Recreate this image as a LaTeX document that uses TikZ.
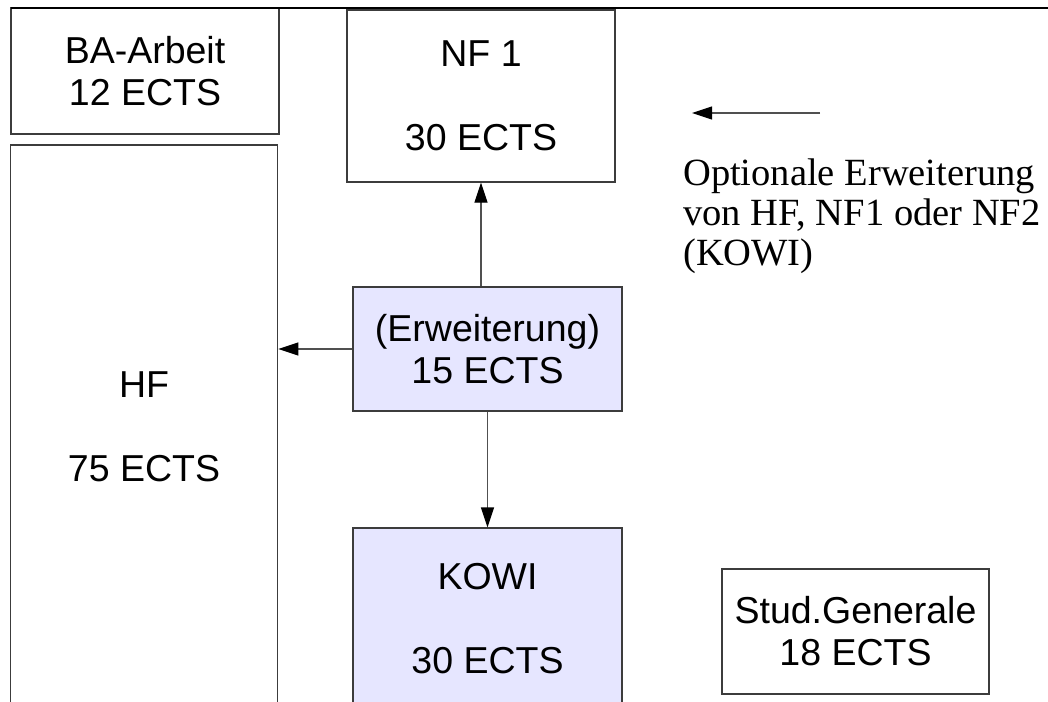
\documentclass[tikz,border=0pt]{standalone}
\usepackage{fontspec}
\setmainfont{Liberation Sans}
\newfontfamily\legendfont{Liberation Serif}
\usetikzlibrary{arrows.meta}
\definecolor{boxfill}{RGB}{230,230,255}
\definecolor{edge}{RGB}{60,60,60}
\definecolor{arrline}{RGB}{80,80,80}
\tikzset{
  box/.style={draw=edge, line width=1.2pt, inner sep=0pt, align=center,
    font=\fontsize{37.5}{42}\selectfont},
  shaded/.style={box, fill=boxfill},
  arr/.style={draw=arrline, line width=1.2pt,
    -{Triangle[length=20pt,width=13pt,color=black,fill=black]}},
  txt/.style={inner sep=0pt, align=center, font=\fontsize{37.5}{42}\selectfont},
}
\begin{document}
\begin{tikzpicture}[x=1pt,y=-1pt]
\clip (0,0) rectangle (1048,701);
\fill[white] (0,0) rectangle (1048,701);
% boxes
\node[box, minimum width=268pt, minimum height=126pt] (ba) at (145,71) {BA-Arbeit\\12 ECTS};
\node[box, minimum width=268pt, minimum height=172pt] (nf1) at (481,96) {NF 1\\[42pt]30 ECTS};
\node[box, minimum width=267.5pt, minimum height=655pt] (hf) at (144,472.5) {};
\node[txt] (hftext) at (144,427) {HF\\[42pt]75 ECTS};
\node[shaded, minimum width=269pt, minimum height=124pt] (erw) at (487.5,349) {(Erweiterung)\\15 ECTS};
\node[shaded, minimum width=269pt, minimum height=272pt] (kowi) at (487.5,664) {};
\node[txt] (kowitext) at (487.5,619) {KOWI\\[42pt]30 ECTS};
\node[box, minimum width=267pt, minimum height=125pt] (stud) at (855.5,631.5) {Stud.Generale\\18 ECTS};
% top rule
\coordinate (rl) at (11,8);
\coordinate (rr) at (1048,8);
\draw[black, line width=2.2pt] (rl) -- (rr);
% connectors
\draw[arr] (erw.north -| nf1.south) -- (nf1.south);
\draw[arr] (erw.west) -- (erw.west -| hf.east);
\draw[arr] (erw.south) -- (kowi.north);
% legend
\coordinate (la) at (820,113);
\coordinate (lb) at (692,113);
\draw[arr] (la) -- (lb);
\node[inner sep=0pt, anchor=north west, align=left,
  font=\legendfont\fontsize{38.5}{40}\selectfont] (legend) at (683,158.5)
  {Optionale Erweiterung\\von HF, NF1 oder NF2\\(KOWI)};
\end{tikzpicture}
\end{document}
